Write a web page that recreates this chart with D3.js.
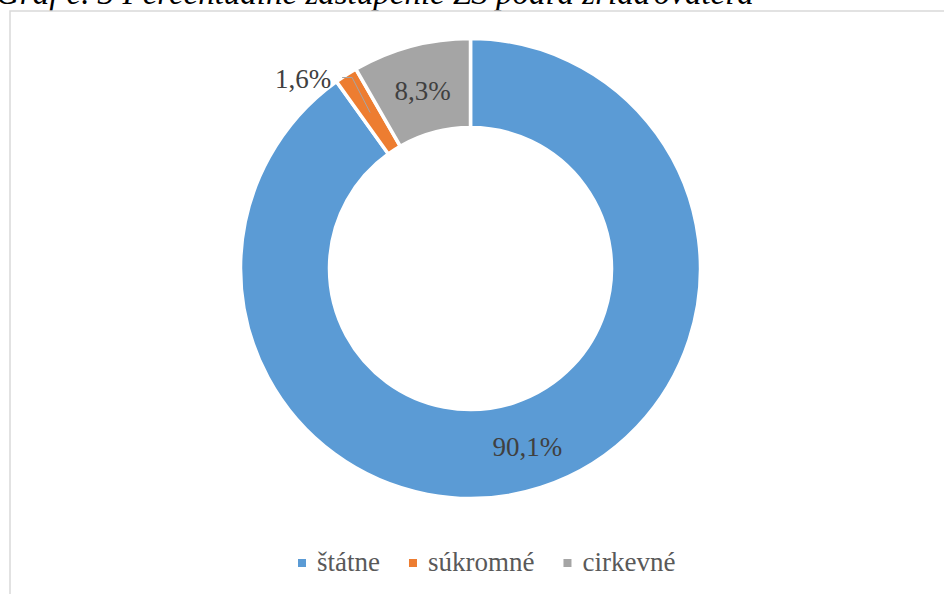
<!DOCTYPE html>
<html>
<head>
<meta charset="utf-8">
<script src="https://cdn.jsdelivr.net/npm/d3@7"></script>
<style>
  html, body { margin: 0; padding: 0; background: #ffffff; }
  svg { display: block; }
</style>
</head>
<body>
<svg id="chart" width="944" height="594"></svg>
<script>
const title = "Graf č. 3 Percentuálne zastúpenie ZŠ podľa zriaďovateľa";
const categories = ["štátne", "súkromné", "cirkevné"];
const values = [90.1, 1.6, 8.3];
const labels = ["90,1%", "1,6%", "8,3%"];
const colors = ["#5B9BD5", "#ED7D31", "#A5A5A5"];

const svg = d3.select("#chart");
const W = 944, H = 594;
const cx = 470.5, cy = 268.5, outerR = 230, innerR = 141;
const serif = "'Liberation Serif', 'Times New Roman', serif";

// title (cut off at top, as in the reference)
svg.append("text")
  .attr("x", -4).attr("y", 4)
  .attr("font-family", serif).attr("font-style", "italic")
  .attr("font-size", 33).attr("fill", "#000")
  .text(title);

// frame
svg.append("rect")
  .attr("x", 10).attr("y", 11).attr("width", W + 20).attr("height", H + 20)
  .attr("fill", "#fff").attr("stroke", "#d9d9d9").attr("stroke-width", 1.5);

const data = categories.map((c, i) => ({ cat: c, value: values[i], label: labels[i], color: colors[i] }));
const pie = d3.pie().value(d => d.value).sort(null);
const arcs = pie(data);
const arc = d3.arc().innerRadius(innerR).outerRadius(outerR);

const g = svg.append("g").attr("transform", `translate(${cx},${cy})`);
g.selectAll("path.slice").data(arcs).join("path")
  .attr("class", "slice")
  .attr("d", arc)
  .attr("fill", d => d.data.color)
  .attr("stroke", "#fff").attr("stroke-width", 3.5).attr("stroke-linejoin", "miter");

// labels
const textColor = "#404040";
arcs.forEach((a, i) => {
  const [x, y] = arc.centroid(a);
  if (a.data.value < 5) {
    const lx = x - 18, ly = y - 35;
    g.append("polyline")
      .attr("points", [[x, y], [lx, ly], [lx - 10, ly]].map(p => p.join(",")).join(" "))
      .attr("fill", "none").attr("stroke", "#A5A5A5").attr("stroke-width", 1);
    g.append("text")
      .attr("x", lx - 21).attr("y", ly + 1)
      .attr("text-anchor", "end").attr("dominant-baseline", "central")
      .attr("font-family", serif).attr("font-size", 27).attr("fill", textColor)
      .text(a.data.label);
  } else {
    g.append("text")
      .attr("x", x).attr("y", y + 2)
      .attr("text-anchor", "middle").attr("dominant-baseline", "central")
      .attr("font-family", serif).attr("font-size", 27).attr("fill", textColor)
      .text(a.data.label);
  }
});

// legend
const legend = svg.append("g").attr("transform", "translate(298,571)");
let xoff = 0;
data.forEach((d, i) => {
  const item = legend.append("g").attr("transform", `translate(${xoff},0)`);
  item.append("rect").attr("x", 0).attr("y", -12).attr("width", 8).attr("height", 8).attr("fill", d.color);
  const t = item.append("text").attr("x", 19).attr("y", 0)
    .attr("font-family", serif).attr("font-size", 27).attr("fill", "#595959")
    .text(d.cat);
  xoff += 19 + t.node().getComputedTextLength() + 29;
});
</script>
</body>
</html>
